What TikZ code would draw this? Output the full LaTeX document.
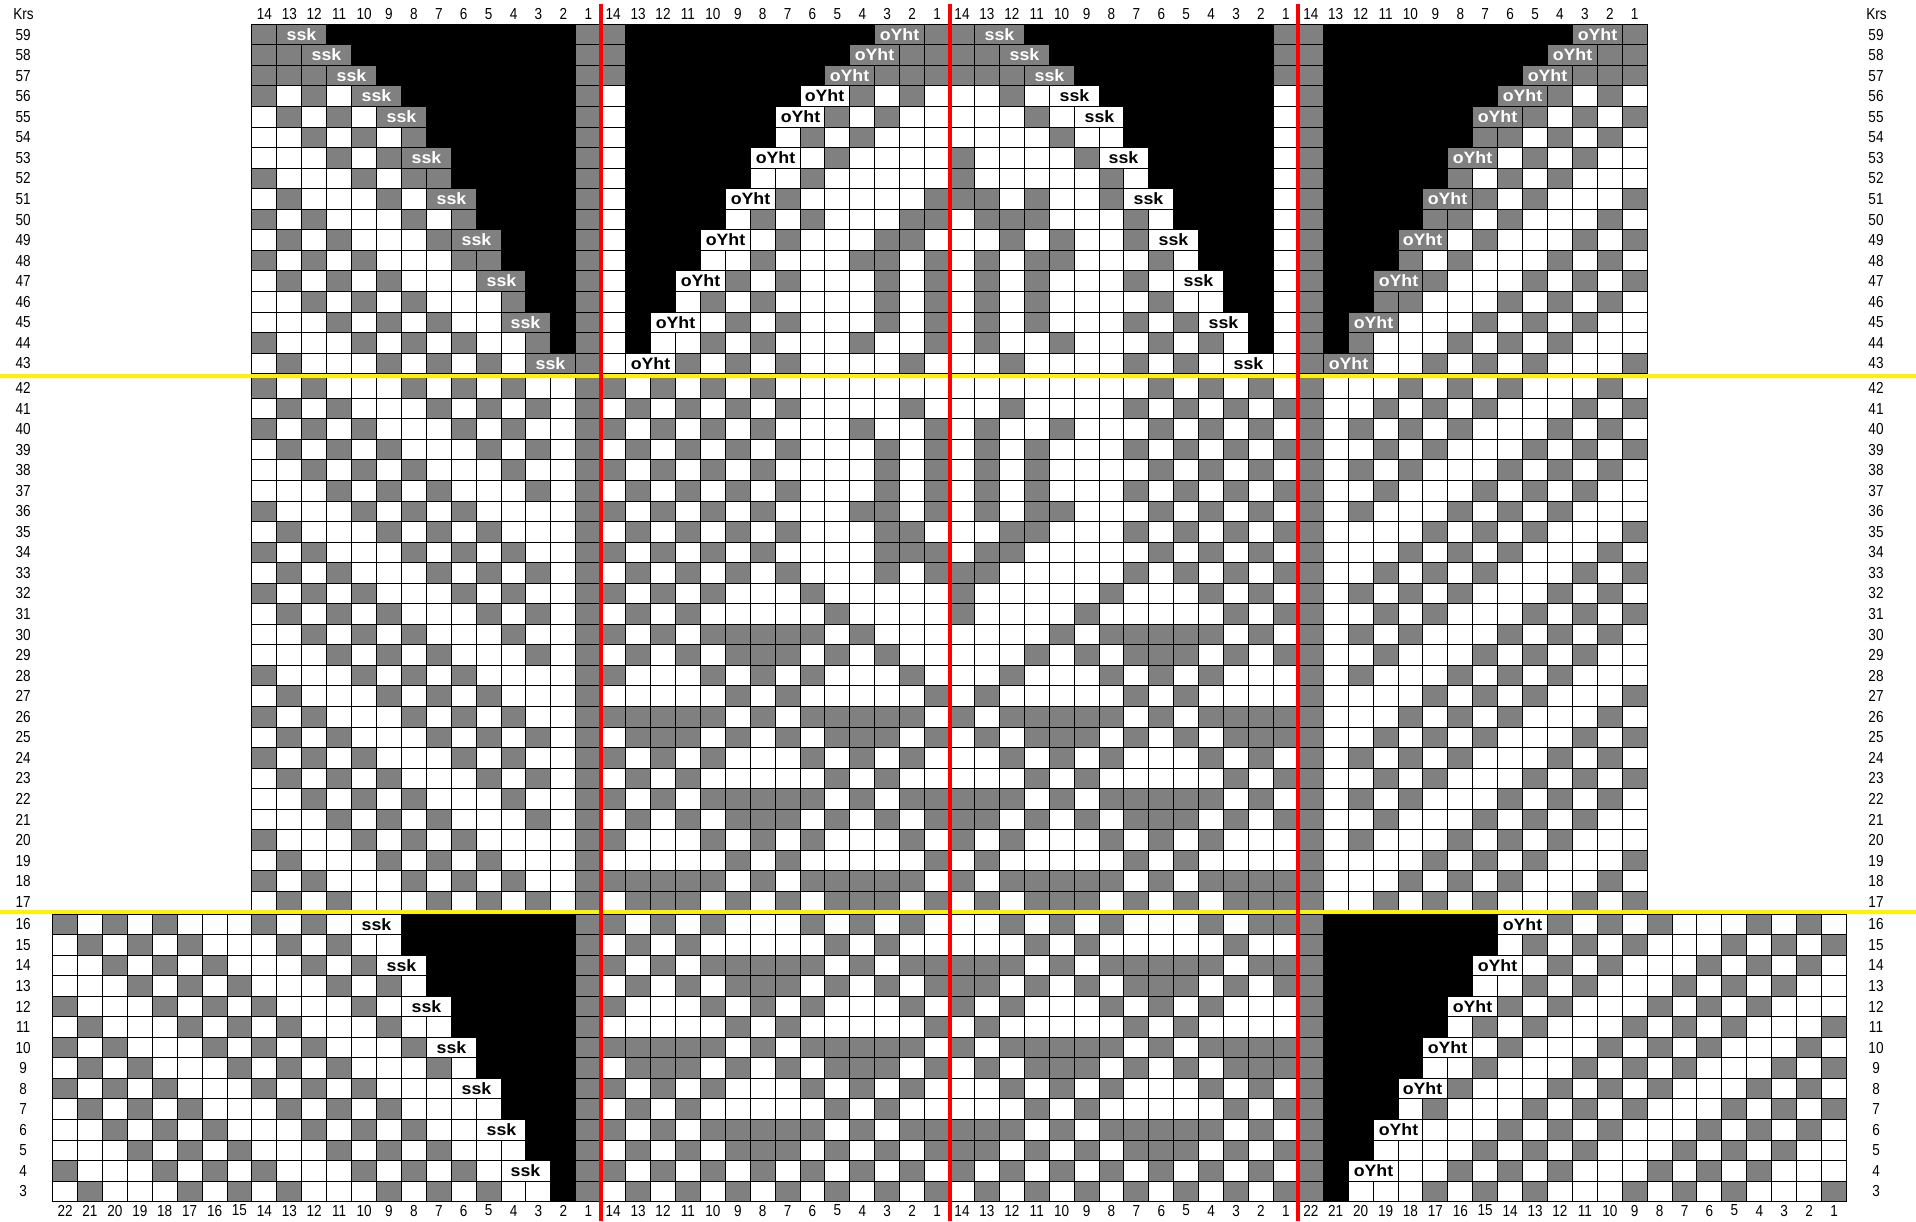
\documentclass[tikz,border=0pt]{standalone}
\usepackage{fontspec}
\newfontfamily\numfont[FakeStretch=0.85]{Liberation Sans}
\newfontfamily\lblfont[FakeStretch=1.08]{Liberation Sans}
\definecolor{cgray}{RGB}{128,128,128}
\tikzset{
  cellg/.style={fill=cgray,draw=black,line width=1.1bp},
  cellw/.style={fill=white,draw=black,line width=1.1bp},
  cellk/.style={fill=black,draw=black,line width=1.1bp},
  lbltxt/.style={font=\lblfont\bfseries\fontsize{16.5}{17}\selectfont,inner sep=0pt},
  numtxt/.style={font=\numfont\fontsize{16}{16}\selectfont,inner sep=0pt},
}
\newcount\cidx
\def\drawrow#1#2#3{%
  \def\currow{#1}%
  \ifnum#1>42 \pgfmathsetmacro\rtop{floor(24.3+(59-#1)*20.55)+0.5}\pgfmathsetmacro\rbot{floor(24.3+(60-#1)*20.55)+0.5}%
  \else\ifnum#1>16 \pgfmathsetmacro\rtop{floor(377.7+(42-#1)*20.55)+0.5}\pgfmathsetmacro\rbot{floor(377.7+(43-#1)*20.55)+0.5}%
  \else\pgfmathsetmacro\rtop{floor(914+(16-#1)*20.55)+0.5}\pgfmathsetmacro\rbot{floor(914+(17-#1)*20.55)+0.5}\fi\fi
  \pgfmathsetmacro\rmid{(\rtop+\rbot)/2}%
  \global\cidx=#2\relax
  \parsecells#3\relax}
\def\parsecells#1{%
  \ifx#1\relax\else
    \drawcell#1%
    \global\advance\cidx by 1
    \expandafter\parsecells
  \fi}
\def\drawcell#1{%
  \pgfmathsetmacro\cx{floor(52.6+\the\cidx*24.915)+0.5}%
  \pgfmathsetmacro\cxa{floor(52.6+(\the\cidx+1)*24.915)+0.5}%
  \pgfmathsetmacro\cxb{floor(52.6+(\the\cidx+2)*24.915)+0.5}%
  \if#1g\path[cellg] (\cx,\rtop) rectangle (\cxa,\rbot);\fi
  \if#1w\path[cellw] (\cx,\rtop) rectangle (\cxa,\rbot);\fi
  \if#1k\path[cellk] (\cx,\rtop) rectangle (\cxa,\rbot);\fi
  \if#1S\path[cellg] (\cx,\rtop) rectangle (\cxb,\rbot);
    \node[lbltxt,text=white] (L\currow-\the\cidx) at (\cxa,\rmid) {ssk};\fi
  \if#1s\path[cellw] (\cx,\rtop) rectangle (\cxb,\rbot);
    \node[lbltxt,text=black] (L\currow-\the\cidx) at (\cxa,\rmid) {ssk};\fi
  \if#1O\path[cellg] (\cx,\rtop) rectangle (\cxb,\rbot);
    \node[lbltxt,text=white] (L\currow-\the\cidx) at (\cxa,\rmid) {oYht};\fi
  \if#1o\path[cellw] (\cx,\rtop) rectangle (\cxb,\rbot);
    \node[lbltxt,text=black] (L\currow-\the\cidx) at (\cxa,\rmid) {oYht};\fi
}
\begin{document}
\begin{tikzpicture}[x=1bp,y=-1bp]
\useasboundingbox (0,0) rectangle (1916,1221);
\fill[white] (0,0) rectangle (1916,1221);
% ---------- top rows 59..43
\drawrow{59}{8}{gS+ kkkkk kkkkk g  g kkkkk kkkkk O+g  gS+ kkkkk kkkkk g  g kkkkk kkkkk O+g}
\drawrow{58}{8}{ggS+ kkkkk kkkk g  g kkkkk kkkk O+gg  ggS+ kkkkk kkkk g  g kkkkk kkkk O+gg}
\drawrow{57}{8}{gggS+ kkkkk kkk g  g kkkkk kkk O+ggg  gggS+ kkkkk kkk g  g kkkkk kkk O+ggg}
\drawrow{56}{8}{gwgwS+ kkkkk kk g  w kkkkk kk o+gwgw  wwgws+ kkkkk kk w  g kkkkk kk O+gwgw}
\drawrow{55}{8}{wgwgwS+ kkkkk k g  w kkkkk k o+gwgww  wwwgws+ kkkkk k w  g kkkkk k O+gwgwg}
\drawrow{54}{8}{wwgwgwg kkkkk k g  w kkkkk k wgwgwww  wwwwgww kkkkk k w  g kkkkk k ggwgwgw}
\drawrow{53}{8}{wwwgwgS+ kkkkk g  w kkkkk o+wgwwww  gwwwwgs+ kkkkk w  g kkkkk O+wgwgww}
\drawrow{52}{8}{gwwwgwgg kkkkk g  w kkkkk wwgwwwww  gwwwwwgw kkkkk w  g kkkkk gwgwgwww}
\drawrow{51}{8}{wgwwwgwS+ kkkk g  w kkkk o+gwwwwwg  ggwgwwgs+ kkkk w  g kkkk O+gwgwwwg}
\drawrow{50}{8}{gwgwwwgwg kkkk g  w kkkk wgwgwwwgg  wgggwwwgw kkkk w  g kkkk ggwgwwwgw}
\drawrow{49}{8}{wgwgwwwgS+ kkk g  w kkk o+wgwwwggw  wwgwgwwgs+ kkk w  g kkk O+wgwwwgwg}
\drawrow{48}{8}{gwgwgwwwgg kkk g  w kkk wwgwwwggwg  wgwggwwwgw kkk w  g kkk gwgwwwgwgw}
\drawrow{47}{8}{wgwgwgwwwS+ kk g  w kk o+gwgwwwgwg  wgwgwwwgws+ kk w  g kk O+gwwwgwgwg}
\drawrow{46}{8}{wwgwgwgwwwg kk g  w kk wgwgwwwwgwg  wgwgwwwwgww kk w  g kk ggwwwgwgwgw}
\drawrow{45}{8}{wwwgwgwgwwS+ k g  w k o+wgwgwwwgwg  wgwgwwwgwgs+ k w  g k O+wwwgwgwgww}
\drawrow{44}{8}{gwwwgwgwgwwg k g  w k wwgwgwwwgwwg  wgwwgwwwgwgw k w  g k gwwwgwgwgwww}
\drawrow{43}{8}{wgwwwgwgwgwS+g  wo+gwgwgwwwwgw  wwgwwwwgwgws+w  gO+wwgwgwgwwwg}
% ---------- middle rows 42..17
\drawrow{42}{8}{gwgwwwgwgwgwwg  gwgwgwg wwwww wwwww wwwww gwgwgw  gwwwgwgwgwwwgw}
\drawrow{41}{8}{wgwgwwwgwgwgwg  w gwgwgwgwwwwgw wwgwwwwgwgwgwg  gwwgwgwgwwwgwg}
\drawrow{40}{8}{gwgwgwwwgwgwwg  g wgwgwgwwwgwwg wgwwgwwwgwgwgw  gwgwgwgwwwgwgw}
\drawrow{39}{8}{wgwgwgwwwgwgwg  w gwgwgwgwwwgwg wgwgwwwgwgwgwg  gwwgwgwwwgwgwg}
\drawrow{38}{8}{wwgwgwgwwwgwwg  g wgwgwgwwwwgwg wgwgwwwwgwgwgw  gwgwgwwwgwgwgw}
\drawrow{37}{8}{wwwgwgwgwwwgwg  w gwgwgwgwwwgwg wgwgwwwgwgwgwg  gwwgwwwgwgwgww}
\drawrow{36}{8}{gwwwgwgwgwwwwg  g wgwgwgwwwggwg wgwggwwwgwgwgw  gwgwwwgwgwgwww}
\drawrow{35}{8}{wgwwwgwgwgwwwg  w gwgwgwgwwwggw wwggwwwgwgwgwg  gwwwwgwgwgwwwg}
\drawrow{34}{8}{gwgwwwgwgwgwwg  g wgwgwgwwwwggg wggwwwwwgwgwgw  gwwwgwgwgwwwgw}
\drawrow{33}{8}{wgwgwwwgwgwgwg  w gwgwgwgwwwgwg ggwwwwwgwgwgwg  gwwgwgwgwwwgwg}
\drawrow{32}{8}{gwgwgwwwgwgwwg  g wgwgwwwgwwwww gwwwwwgwwwgwgw  gwgwgwgwwwgwgw}
\drawrow{31}{8}{wgwgwgwwwgwgwg  w gwgwwwwwgwwww gwwwwgwwwwwgwg  gwwgwgwwwgwgwg}
\drawrow{30}{8}{wwgwgwgwwwgwwg  g wgwgggggwgwww wwwwgwgggggwgw  gwgwgwwwgwgwgw}
\drawrow{29}{8}{wwwgwgwgwwwgwg  w gwgwgggwgwgww wwwgwgwgggwgwg  gwwgwwwgwgwgww}
\drawrow{28}{8}{gwwwgwgwgwwwwg  g wwwgwgwgwwwgw wwgwwwgwgwgwww  gwgwwwgwgwgwww}
\drawrow{27}{8}{wgwwwgwgwgwwwg  w wwwwgwgwwwwwg wgwwwwwgwgwwww  gwwwwgwgwgwwwg}
\drawrow{26}{8}{gwgwwwgwgwgwwg  g ggggwgwgggggw gwgggggwgwgggg  gwwwgwgwgwwwgw}
\drawrow{25}{8}{wgwgwwwgwgwgwg  w gggwgwgwgggwg wgwgggwgwgwggg  gwwgwgwgwwwgwg}
\drawrow{24}{8}{gwgwgwwwgwgwwg  g wgwgwwwgwgwgw wwgwgwgwwwgwgw  gwgwgwgwwwgwgw}
\drawrow{23}{8}{wgwgwgwwwgwgwg  w gwgwwwwwgwgww wwwgwgwwwwwgwg  gwwgwgwwwgwgwg}
\drawrow{22}{8}{wwgwgwgwwwgwwg  g wgwgggggwgwgg gggwgwgggggwgw  gwgwgwwwgwgwgw}
\drawrow{21}{8}{wwwgwgwgwwwgwg  w gwgwgggwgwgwg ggwgwgwgggwgwg  gwwgwwwgwgwgww}
\drawrow{20}{8}{gwwwgwgwgwwwwg  g wwwgwgwgwwwgw gwgwwwgwgwgwww  gwgwwwgwgwgwww}
\drawrow{19}{8}{wgwwwgwgwgwwwg  w wwwwgwgwwwwwg wgwwwwwgwgwwww  gwwwwgwgwgwwwg}
\drawrow{18}{8}{gwgwwwgwgwgwwg  g ggggwgwgggggw gwgggggwgwgggg  gwwwgwgwgwwwgw}
\drawrow{17}{8}{wgwgwwwgwgwgwg  w gggwgwgwgggwg wgwgggwgwgwggg  gwwgwgwgwwwgwg}
% ---------- bottom rows 16..3
\drawrow{16}{0}{gwgwgwwwgwgw s+ kkkkkkk g  g wgwgwwwgwgwgw wwgwgwgwwwgwgg  g kkkkkkk o+ gwgwgwwwgwgw}
\drawrow{15}{0}{wgwgwgwwwgwgww kkkkkkk g  w gwgwwwwwgwgww wwwgwgwwwwwgww  g kkkkkkk wgwgwgwwwgwgwg}
\drawrow{14}{0}{wwgwgwgwwwgwg s+ kkkkkk g  g wgwgggggwgwgg gggwgwgggggwgg  g kkkkkk o+ wgwgwwwgwgwgw}
\drawrow{13}{0}{wwwgwgwgwwwgwgw kkkkkk g  w gwgwgggwgwgwg ggwgwgwgggwgwg  g kkkkkk wwgwgwwwgwgwgww}
\drawrow{12}{0}{gwwwgwgwgwwwgw s+ kkkkk g  g wwwgwgwgwwwgw gwgwwwgwgwgwww  g kkkkk o+ gwgwwwgwgwgwww}
\drawrow{11}{0}{wgwwwgwgwgwwwgww kkkkk g  w wwwwgwgwwwwwg wgwwwwwgwgwwww  g kkkkk wgwgwwwgwgwgwwwg}
\drawrow{10}{0}{gwgwwwgwgwgwwwg s+ kkkk g  g ggggwgwgggggw gwgggggwgwgggg  g kkkk o+ wgwwwgwgwgwwwgw}
\drawrow{9}{0}{wgwgwwwgwgwgwwwgw kkkk g  w gggwgwgwgggwg wgwgggwgwgwggg  g kkkk wwgwwwgwgwgwwwgwg}
\drawrow{8}{0}{gwgwgwwwgwgwgwww s+ kkk g  g wgwgwwwgwgwgw wwgwgwgwwwgwgw  g kkk o+ gwwwgwgwgwwwgwgw}
\drawrow{7}{0}{wgwgwgwwwgwgwgwwww kkk g  w gwgwwwwwgwgww wwwgwgwwwwwgwg  g kkk wgwwwgwgwgwwwgwgwg}
\drawrow{6}{0}{wwgwgwgwwwgwgwgww s+ kk g  g wgwgggggwgwgg gggwgwgggggwgw  g kk o+ wwwgwgwgwwwgwgwgw}
\drawrow{5}{0}{wwwgwgwgwwwgwgwgwww kk g  w gwgwgggwgwgwg ggwgwgwgggwgwg  g kk wwwwgwgwgwwwgwgwgww}
\drawrow{4}{0}{gwwwgwgwgwwwgwgwgw s+ k g  g wgwgwgwgwgwgw gwgwgwgwgwgwgw  g k o+ wwgwgwgwwwgwgwgwww}
\drawrow{3}{0}{wgwwwgwgwgwwwgwgwgww k g  w gwgwgwgwgwgwg wgwgwgwgwgwgwg  g k wwwgwgwgwwwgwgwgwwwg}
% ---------- separator lines
\draw[yellow,line width=4bp] (0,375.7) -- (1916,375.7);
\draw[yellow,line width=4bp] (0,912) -- (1916,912);
\foreach \xx in {600.7,949.5,1298.4} \draw[red,line width=4bp] (\xx,3.5) -- (\xx,1221);
% ---------- column numbers
\foreach \c in {8,...,63}{
  \pgfmathtruncatemacro\lab{\c<22 ? 22-\c : (\c<36 ? 36-\c : (\c<50 ? 50-\c : 64-\c))}
  \node[numtxt] (top\c) at ({52.6+(\c+0.5)*24.915},14) {\lab};
}
\foreach \c in {0,...,71}{
  \pgfmathtruncatemacro\lab{\c<22 ? 22-\c : (\c<36 ? 36-\c : (\c<50 ? 50-\c : 72-\c))}
  \node[numtxt] (bot\c) at ({52.6+(\c+0.5)*24.915},1210.5) {\lab};
}
% ---------- row numbers
\node[numtxt] (krsL) at (23.5,14) {Krs};
\node[numtxt] (krsR) at (1876.5,14) {Krs};
\foreach \r in {3,...,59}{
  \ifnum\r>42 \pgfmathsetmacro\yc{24.3+(59-\r)*20.55+10.275}%
  \else\ifnum\r>16 \pgfmathsetmacro\yc{377.7+(42-\r)*20.55+10.275}%
  \else\pgfmathsetmacro\yc{914+(16-\r)*20.55+10.275}\fi\fi
  \node[numtxt] (rl\r) at (23.2,\yc) {\r};
  \node[numtxt] (rr\r) at (1876,\yc) {\r};
}
\end{tikzpicture}
\end{document}
